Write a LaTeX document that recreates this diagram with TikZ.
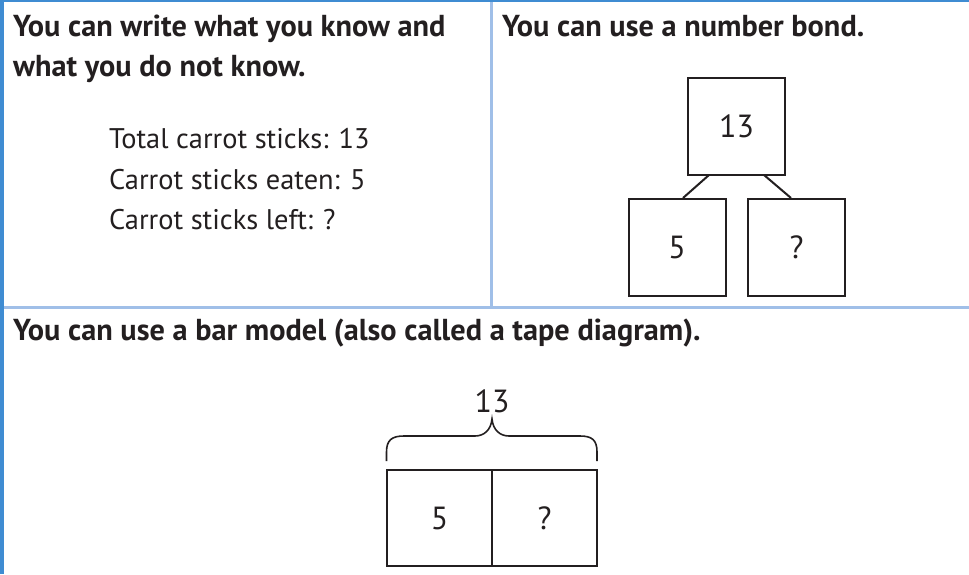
\documentclass[tikz,border=0pt]{standalone}
\usepackage{fontspec}
\setmainfont{PT Sans}
\definecolor{ink}{HTML}{231F20}
\definecolor{edgeblue}{HTML}{3F8CD2}
\definecolor{ruleblue}{HTML}{A0BFE8}
\begin{document}
\begin{tikzpicture}[x=1pt,y=-1pt,
  heading/.style={anchor=base west,inner sep=0pt,text=ink,font=\fontsize{30.3}{40}\selectfont\bfseries},
  body/.style={anchor=base west,inner sep=0pt,text=ink,font=\fontsize{28.4}{40}\selectfont},
  numlabel/.style={inner sep=0pt,text=ink,font=\fontsize{32}{32}\selectfont},
  bondbox/.style={draw=ink,line width=2pt,minimum width=97pt,minimum height=97pt,inner sep=0pt,text=ink,font=\fontsize{32}{32}\selectfont},
  barcell/.style={draw=ink,line width=2pt,minimum width=105pt,minimum height=96pt,inner sep=0pt},
  bond/.style={draw=ink,line width=2pt}]
\useasboundingbox (0,0) rectangle (969,574);
\fill[white] (0,0) rectangle (969,574);
% panel rules
\fill[ruleblue] (490,0) rectangle (492.5,306);
\fill[ruleblue] (0,306) rectangle (969,309);
\fill[edgeblue] (0,0) rectangle (969,1.6);
\fill[edgeblue] (0,0) rectangle (4,574);
% left panel
\node[heading] (h1a) at (13,36) {You can write what you know and};
\node[heading] (h1b) at (13,76) {what you do not know.};
\node[body] (t1) at (109,148) {Total carrot sticks: 13};
\node[body] (t2) at (109,189) {Carrot sticks eaten: 5};
\node[body] (t3) at (109,229) {Carrot sticks left: ?};
% right panel: number bond
\node[heading] (h2) at (502,36) {You can use a number bond.};
\node[bondbox] (whole) at (736.5,126.5) {13};
\node[bondbox] (partA) at (677,247.5) {5};
\node[bondbox] (partB) at (796.5,247.5) {?};
\coordinate (wl) at (709,175);
\coordinate (wr) at (764,175);
\draw[bond] (wl) -- (partA.north -| 683,0);
\draw[bond] (wr) -- (partB.north -| 791,0);
% bottom panel: bar model
\node[heading] (h3) at (13,340) {You can use a bar model (also called a tape diagram).};
\node[barcell] (barA) at (439.5,518) {};
\node[barcell] (barB) at (544.5,518) {};
\node[numlabel] (labA) at (barA) {5};
\node[numlabel] (labB) at (barB) {?};
\coordinate (bl) at (386.5,461);
\coordinate (br) at (597,461);
\coordinate (tip) at (492,419);
\draw[ink,line width=1.6pt] (bl) -- (386.5,452) .. controls (386.5,440) and (392,436) .. (404,436)
  -- (475,436) .. controls (484,436) and (491,430) .. (tip)
  .. controls (493,430) and (500,436) .. (509,436)
  -- (580,436) .. controls (592,436) and (597,440) .. (597,452) -- (br);
\node[numlabel,anchor=base] (total) at (492,412) {13};
\end{tikzpicture}
\end{document}
